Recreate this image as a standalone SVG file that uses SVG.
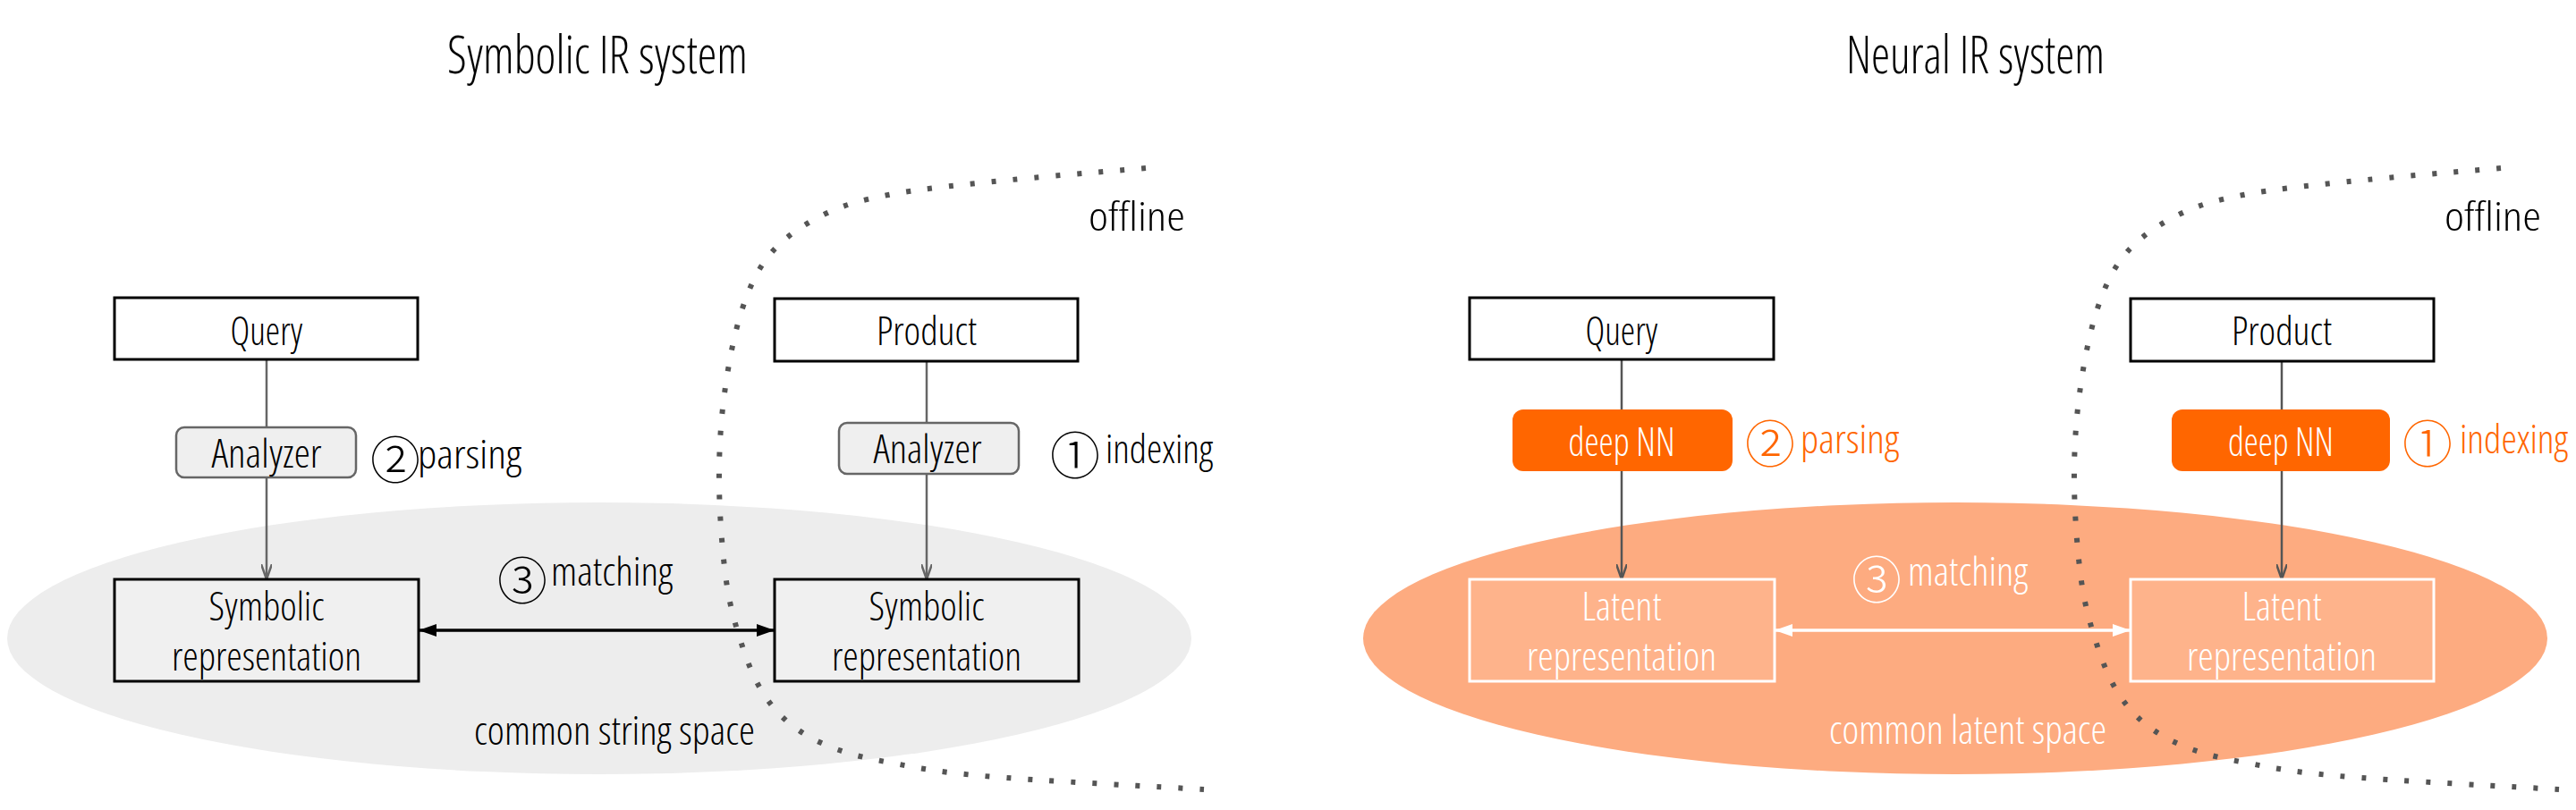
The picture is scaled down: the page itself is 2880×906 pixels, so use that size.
<svg xmlns="http://www.w3.org/2000/svg" width="2880" height="906" viewBox="0 0 2880 906">
<defs>
<style>
.t{font-family:"Open Sans","Liberation Sans",sans-serif;font-stretch:condensed;font-weight:300;}
.title{font-size:58px;fill:#000;}
.lbl{font-size:44px;fill:#000;}
.mid{text-anchor:middle;}
.circ{font-family:"Noto Sans CJK SC","Noto Sans CJK JP",sans-serif;font-size:56px;font-weight:300;text-anchor:middle;dominant-baseline:central;}
.box{fill:#fff;stroke:#000;stroke-width:3;}
.sym{fill:#f0f0f0;stroke:#000;stroke-width:3;}
.ana{fill:#efefef;stroke:#666;stroke-width:2.5;}
.nn{fill:#ff6600;}
.lat{fill:#feb38b;stroke:#fff;stroke-width:3;}
.vline{fill:none;stroke-width:2.5;}
.dots{fill:none;stroke:#555;stroke-width:6;stroke-dasharray:5 19;}
.w{fill:#fff;}
.o{fill:#ff6600;}
</style>
<marker id="vaL" viewBox="0 0 18 12" refX="17" refY="6" markerWidth="18" markerHeight="12" markerUnits="userSpaceOnUse" orient="auto">
<path d="M0,0 L17,6 L0,12" fill="none" stroke="#666" stroke-width="2.5"/>
</marker>
<marker id="vaR" viewBox="0 0 18 12" refX="17" refY="6" markerWidth="18" markerHeight="12" markerUnits="userSpaceOnUse" orient="auto">
<path d="M0,0 L17,6 L0,12" fill="none" stroke="#555" stroke-width="2.5"/>
</marker>
<marker id="triB" viewBox="0 0 20 14" refX="20" refY="7" markerWidth="20" markerHeight="14" markerUnits="userSpaceOnUse" orient="auto-start-reverse">
<path d="M0,0 L20,7 L0,14 z" fill="#000"/>
</marker>
<marker id="triW" viewBox="0 0 20 14" refX="20" refY="7" markerWidth="20" markerHeight="14" markerUnits="userSpaceOnUse" orient="auto-start-reverse">
<path d="M0,0 L20,7 L0,14 z" fill="#fff"/>
</marker>
<path id="curve" d="M1281,188 C1252.7,190.5 1159,198 1111,203 C1063,208 1024.7,211.8 993,218 C961.3,224.2 942.7,229.3 921,240 C899.3,250.7 878.2,264.5 863,282 C847.8,299.5 838.8,318.7 830,345 C821.2,371.3 814.3,407.5 810,440 C805.7,472.5 803.7,505 804,540 C804.3,575 807.7,619.5 812,650 C816.3,680.5 823.2,702.2 830,723 C836.8,743.8 843.8,760.3 853,775 C862.2,789.7 872.2,800.8 885,811 C897.8,821.2 912.5,829.2 930,836 C947.5,842.8 961.7,846.7 990,852 C1018.3,857.3 1040.7,862.8 1100,868 C1159.3,873.2 1305,880.5 1346,883"/>
</defs>
<rect width="2880" height="906" fill="#fff"/>

<g id="spaces">
<ellipse cx="670" cy="714" rx="662" ry="152" fill="#ededed"/>
<ellipse cx="2186" cy="714" rx="662" ry="152" fill="#fdab80"/>
</g>

<g id="titles" class="t">
<text class="t title" x="500" y="82" textLength="336" lengthAdjust="spacingAndGlyphs">Symbolic IR system</text>
<text class="t title" x="2064" y="82" textLength="289" lengthAdjust="spacingAndGlyphs">Neural IR system</text>
<text class="t lbl" x="1217" y="258" textLength="108" lengthAdjust="spacingAndGlyphs">offline</text>
<text class="t lbl" x="2733" y="258" textLength="108" lengthAdjust="spacingAndGlyphs">offline</text>
</g>

<g id="connectors">
<path class="vline" stroke="#666" d="M298,402 V478"/>
<path class="vline" stroke="#666" d="M298,534 V648" marker-end="url(#vaL)"/>
<path class="vline" stroke="#666" d="M1036,404 V473"/>
<path class="vline" stroke="#666" d="M1036,530 V648" marker-end="url(#vaL)"/>
<path class="vline" stroke="#555" d="M1813,402 V458"/>
<path class="vline" stroke="#555" d="M1813,527 V648" marker-end="url(#vaR)"/>
<path class="vline" stroke="#555" d="M2551,404 V458"/>
<path class="vline" stroke="#555" d="M2551,527 V648" marker-end="url(#vaR)"/>
<path d="M468,705 H866" fill="none" stroke="#000" stroke-width="3.5" marker-start="url(#triB)" marker-end="url(#triB)"/>
<path d="M1984,705 H2382" fill="none" stroke="#fff" stroke-width="3.5" marker-start="url(#triW)" marker-end="url(#triW)"/>
</g>

<g id="node-query-sym">
<rect class="box" x="128" y="333" width="339" height="69"/>
<text class="t lbl mid" x="298" y="386" textLength="81" lengthAdjust="spacingAndGlyphs">Query</text>
</g>
<g id="node-product-sym">
<rect class="box" x="866" y="334" width="339" height="70"/>
<text class="t lbl mid" x="1036" y="386" textLength="112" lengthAdjust="spacingAndGlyphs">Product</text>
</g>
<g id="node-analyzer-q">
<rect class="ana" x="197" y="478" width="201" height="56" rx="9"/>
<text class="t lbl mid" x="298" y="523" textLength="123" lengthAdjust="spacingAndGlyphs">Analyzer</text>
</g>
<g id="node-analyzer-p">
<rect class="ana" x="938" y="473" width="201" height="57" rx="9"/>
<text class="t lbl mid" x="1037" y="518" textLength="121" lengthAdjust="spacingAndGlyphs">Analyzer</text>
</g>
<g id="node-symrep-q">
<rect class="sym" x="128" y="648" width="340" height="114"/>
<text class="t lbl mid" x="298" y="694" textLength="129" lengthAdjust="spacingAndGlyphs">Symbolic</text>
<text class="t lbl mid" x="298" y="750" textLength="212" lengthAdjust="spacingAndGlyphs">representation</text>
</g>
<g id="node-symrep-p">
<rect class="sym" x="866" y="648" width="340" height="114"/>
<text class="t lbl mid" x="1036" y="694" textLength="129" lengthAdjust="spacingAndGlyphs">Symbolic</text>
<text class="t lbl mid" x="1036" y="750" textLength="212" lengthAdjust="spacingAndGlyphs">representation</text>
</g>

<g id="node-query-neu">
<rect class="box" x="1643" y="333" width="340" height="69"/>
<text class="t lbl mid" x="1813" y="386" textLength="81" lengthAdjust="spacingAndGlyphs">Query</text>
</g>
<g id="node-product-neu">
<rect class="box" x="2382" y="334" width="339" height="70"/>
<text class="t lbl mid" x="2551" y="386" textLength="112" lengthAdjust="spacingAndGlyphs">Product</text>
</g>
<g id="node-nn-q">
<rect class="nn" x="1691" y="458" width="246" height="69" rx="12"/>
<text class="t lbl mid w" x="1813" y="510" textLength="119" lengthAdjust="spacingAndGlyphs">deep NN</text>
</g>
<g id="node-nn-p">
<rect class="nn" x="2428" y="458" width="244" height="69" rx="12"/>
<text class="t lbl mid w" x="2550" y="510" textLength="118" lengthAdjust="spacingAndGlyphs">deep NN</text>
</g>
<g id="node-latrep-q">
<rect class="lat" x="1643" y="648" width="341" height="114"/>
<text class="t lbl mid w" x="1813" y="694" textLength="89" lengthAdjust="spacingAndGlyphs">Latent</text>
<text class="t lbl mid w" x="1813" y="750" textLength="212" lengthAdjust="spacingAndGlyphs">representation</text>
</g>
<g id="node-latrep-p">
<rect class="lat" x="2382" y="648" width="339" height="114"/>
<text class="t lbl mid w" x="2551" y="694" textLength="89" lengthAdjust="spacingAndGlyphs">Latent</text>
<text class="t lbl mid w" x="2551" y="750" textLength="212" lengthAdjust="spacingAndGlyphs">representation</text>
</g>

<g id="labels">
<text class="circ" x="442" y="510">②</text>
<text class="t lbl" x="467" y="524" textLength="116" lengthAdjust="spacingAndGlyphs">parsing</text>
<text class="circ" x="1202" y="505">①</text>
<text class="t lbl" x="1236" y="518" textLength="120" lengthAdjust="spacingAndGlyphs">indexing</text>
<text class="circ" x="584" y="645">③</text>
<text class="t lbl" x="616" y="655" textLength="136" lengthAdjust="spacingAndGlyphs">matching</text>
<text class="t lbl" x="530" y="833" textLength="314" lengthAdjust="spacingAndGlyphs">common string space</text>
<text class="circ o" x="1979" y="492">②</text>
<text class="t lbl o" x="2013" y="507" textLength="110" lengthAdjust="spacingAndGlyphs">parsing</text>
<text class="circ o" x="2714" y="492">①</text>
<text class="t lbl o" x="2750" y="507" textLength="121" lengthAdjust="spacingAndGlyphs">indexing</text>
<text class="circ w" x="2098" y="644">③</text>
<text class="t lbl w" x="2133" y="655" textLength="134" lengthAdjust="spacingAndGlyphs">matching</text>
<text class="t lbl w" x="2045" y="832" textLength="310" lengthAdjust="spacingAndGlyphs">common latent space</text>
</g>

<g id="offline-boundaries">
<use href="#curve" class="dots"/>
<use href="#curve" class="dots" transform="translate(1515,0)"/>
</g>
</svg>
